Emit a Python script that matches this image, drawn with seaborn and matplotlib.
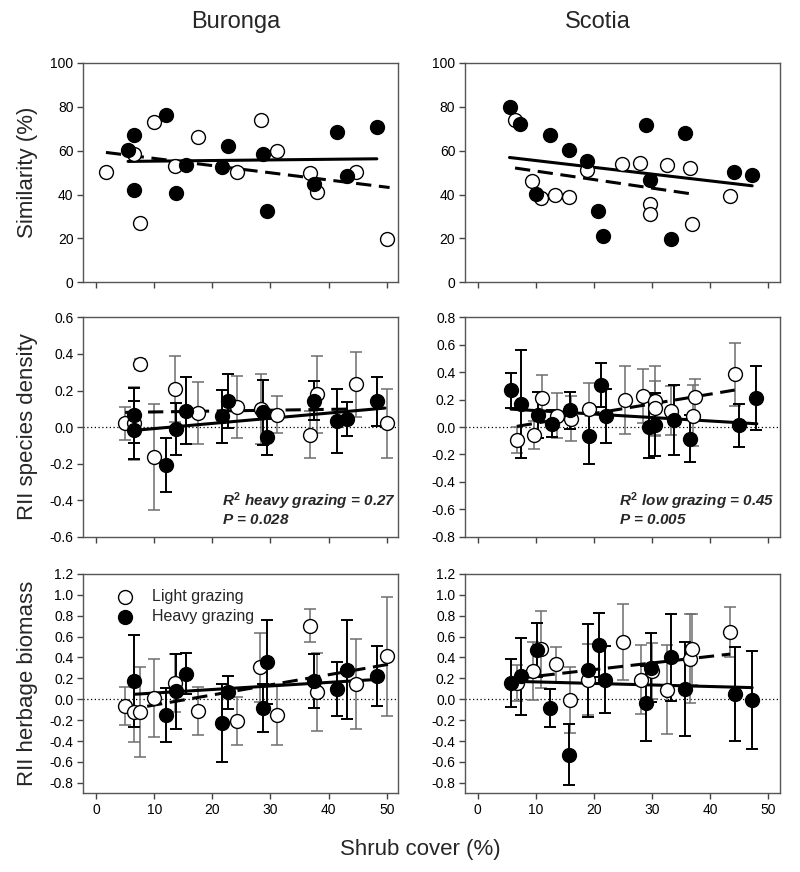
import numpy as np
import matplotlib
matplotlib.use("Agg")
import matplotlib.pyplot as plt
import seaborn as sns

sns.set_theme(style="ticks")
plt.rcParams["font.family"] = ["Liberation Sans", "DejaVu Sans"]
plt.rcParams["axes.unicode_minus"] = False
plt.rcParams["mathtext.fontset"] = "custom"
plt.rcParams["mathtext.it"] = "Liberation Sans:italic:bold"
plt.rcParams["mathtext.rm"] = "Liberation Sans:bold"
plt.rcParams["mathtext.bf"] = "Liberation Sans:bold"

# =========================
# DATA
# =========================
# fits are [x_start, x_end, intercept, slope]

# --- Buronga, similarity ---
bur_sim_light_x = [1.7, 6.6, 7.5, 10.0, 13.5, 17.5, 24.3, 28.3, 31.1, 36.8, 38.0, 44.7, 50.1]
bur_sim_light_y = [50.5, 58.4, 26.9, 72.9, 52.8, 66.2, 50.5, 73.8, 59.8, 49.8, 41.1, 50.5, 19.6]
bur_sim_heavy_x = [5.5, 6.6, 6.6, 12.1, 13.7, 15.5, 21.6, 22.7, 28.7, 29.4, 37.5, 41.4, 43.1, 48.3]
bur_sim_heavy_y = [60.4, 67.3, 42.0, 76.1, 40.9, 53.4, 52.7, 62.1, 58.4, 32.7, 44.7, 68.6, 48.6, 70.9]
bur_sim_fit_light = [1.7, 50.5, 59.76, -0.328]
bur_sim_fit_heavy = [5.5, 48.3, 54.95, 0.028]

# --- Scotia, similarity ---
sco_sim_light_x = [6.4, 9.4, 10.8, 13.3, 15.7, 18.8, 24.8, 27.9, 29.7, 29.7, 32.5, 36.5, 36.9, 43.3]
sco_sim_light_y = [74.1, 46.3, 38.2, 39.6, 39.1, 51.1, 53.9, 54.5, 35.6, 31.1, 53.3, 52.2, 26.6, 39.3]
sco_sim_heavy_x = [5.45, 7.2, 10.0, 12.5, 15.6, 18.8, 20.7, 21.5, 28.9, 29.7, 33.2, 35.6, 44.0, 47.1]
sco_sim_heavy_y = [79.9, 72.3, 40.2, 67.3, 60.4, 55.3, 32.4, 21.3, 71.7, 46.6, 19.8, 67.9, 50.2, 48.7]
sco_sim_fit_light = [6.4, 37.0, 54.59, -0.389]
sco_sim_fit_heavy = [5.45, 47.2, 58.58, -0.309]

# --- Buronga, RII species density ---
bur_den_light_x = [5.0, 6.6, 7.5, 10.0, 13.5, 17.5, 24.3, 28.3, 31.1, 36.8, 38.0, 44.7, 50.1]
bur_den_light_y = [0.02, 0.02, 0.345, -0.164, 0.209, 0.075, 0.109, 0.098, 0.068, -0.042, 0.18, 0.233, 0.02]
bur_den_light_e = [0.09, 0.2, 0.028, 0.29, 0.18, 0.17, 0.168, 0.19, 0.1, 0.13, 0.21, 0.18, 0.19]
bur_den_heavy_x = [6.6, 6.6, 12.1, 13.7, 15.5, 21.6, 22.7, 28.7, 29.4, 37.5, 41.4, 43.1, 48.3]
bur_den_heavy_y = [0.064, -0.018, -0.209, -0.01, 0.089, 0.058, 0.144, 0.08, -0.055, 0.145, 0.033, 0.044, 0.14]
bur_den_heavy_e = [0.15, 0.158, 0.147, 0.144, 0.184, 0.144, 0.147, 0.18, 0.1, 0.105, 0.176, 0.094, 0.135]
bur_den_fit_light = [5.0, 44.0, 0.078, 0.00047]
bur_den_fit_heavy = [6.6, 49.7, -0.0367, 0.00283]

# --- Scotia, RII species density ---
sco_den_light_x = [6.7, 9.6, 11.0, 13.6, 16.0, 19.2, 25.4, 28.5, 30.4, 30.4, 33.2, 37.1, 37.4, 44.2]
sco_den_light_y = [-0.095, -0.058, 0.212, 0.084, 0.06, 0.135, 0.198, 0.227, 0.192, 0.136, 0.12, 0.084, 0.22, 0.384]
sco_den_light_e = [0.095, 0.103, 0.165, 0.164, 0.165, 0.19, 0.25, 0.2, 0.25, 0.2, 0.18, 0.22, 0.13, 0.227]
sco_den_heavy_x = [5.7, 7.5, 10.4, 12.7, 15.9, 19.2, 21.2, 22.1, 29.5, 30.4, 33.8, 36.5, 44.9, 47.9]
sco_den_heavy_y = [0.269, 0.17, 0.087, 0.024, 0.121, -0.063, 0.308, 0.084, 0.003, 0.017, 0.053, -0.085, 0.012, 0.214]
sco_den_heavy_e = [0.127, 0.395, 0.166, 0.1, 0.135, 0.206, 0.16, 0.197, 0.23, 0.23, 0.257, 0.17, 0.158, 0.235]
sco_den_fit_light = [6.7, 44.2, -0.0424, 0.00707]
sco_den_fit_heavy = [5.7, 48.0, 0.1454, -0.00253]

# --- Buronga, RII herbage biomass ---
bur_bio_light_x = [4.9, 6.5, 7.5, 10.0, 13.5, 17.5, 24.3, 28.2, 31.1, 36.8, 38.0, 44.7, 50.1]
bur_bio_light_y = [-0.064, -0.12, -0.12, 0.013, 0.157, -0.109, -0.205, 0.307, -0.147, 0.704, 0.067, 0.15, 0.413]
bur_bio_light_e = [0.18, 0.29, 0.43, 0.37, 0.28, 0.23, 0.23, 0.33, 0.29, 0.16, 0.375, 0.43, 0.57]
bur_bio_heavy_x = [6.6, 12.1, 13.7, 15.5, 21.6, 22.7, 28.7, 29.4, 37.5, 41.4, 43.1, 48.3]
bur_bio_heavy_y = [0.176, -0.15, 0.077, 0.246, -0.227, 0.067, -0.08, 0.358, 0.176, 0.1, 0.285, 0.224]
bur_bio_heavy_e = [0.44, 0.26, 0.36, 0.2, 0.37, 0.16, 0.23, 0.4, 0.26, 0.26, 0.47, 0.29]
bur_bio_fit_light = [4.9, 50.5, -0.152, 0.00967]
bur_bio_fit_heavy = [6.6, 48.3, 0.0255, 0.0034]

# --- Scotia, RII herbage biomass ---
sco_bio_light_x = [6.8, 9.5, 10.9, 13.4, 15.8, 18.9, 24.9, 28.0, 30.0, 32.5, 36.5, 36.9, 43.4]
sco_bio_light_y = [0.157, 0.272, 0.478, 0.333, -0.01, 0.189, 0.548, 0.186, 0.27, 0.093, 0.39, 0.48, 0.648]
sco_bio_light_e = [0.17, 0.28, 0.37, 0.165, 0.315, 0.34, 0.36, 0.33, 0.27, 0.43, 0.43, 0.34, 0.24]
sco_bio_heavy_x = [5.7, 7.35, 10.2, 12.5, 15.7, 18.9, 20.8, 21.8, 29.0, 29.8, 33.3, 35.7, 44.2, 47.2]
sco_bio_heavy_y = [0.157, 0.221, 0.471, -0.083, -0.529, 0.276, 0.519, 0.189, -0.04, 0.3, 0.4, 0.096, 0.054, -0.01]
sco_bio_heavy_e = [0.232, 0.367, 0.26, 0.18, 0.296, 0.444, 0.31, 0.32, 0.36, 0.33, 0.42, 0.45, 0.45, 0.47]
sco_bio_fit_light = [6.7, 43.4, 0.157, 0.00635]
sco_bio_fit_heavy = [5.6, 47.2, 0.181, -0.00147]

sites = ["Buronga", "Scotia"]
row_labels = ["Similarity (%)", "RII species density", "RII herbage biomass"]
x_ticks = [0, 10, 20, 30, 40, 50]


def draw_panel(ax, lx, ly, hx, hy, fit_l, fit_h, le=None, he=None):
    if le is not None:
        ax.axhline(0, color="black", lw=0.9, ls=(0, (1, 2)), zorder=1)
        ax.errorbar(lx, ly, yerr=le, fmt="none", ecolor="#6e6e6e", elinewidth=1.1,
                    capsize=4, capthick=1.1, zorder=2)
        ax.errorbar(hx, hy, yerr=he, fmt="none", ecolor="black", elinewidth=1.4,
                    capsize=4, capthick=1.4, zorder=2)
    for fit, ls in [(fit_l, (0, (5, 2.5))), (fit_h, "-")]:
        xs = np.array(fit[:2])
        ys = fit[2] + fit[3] * xs
        sns.lineplot(x=xs, y=ys, ax=ax, color="black", lw=2.2, linestyle=ls, zorder=3)
    sns.scatterplot(x=lx, y=ly, ax=ax, s=100, color="white", edgecolor="black",
                    linewidth=1.0, zorder=4, label="Light grazing")
    sns.scatterplot(x=hx, y=hy, ax=ax, s=100, color="black", edgecolor="black",
                    linewidth=1.0, zorder=4, label="Heavy grazing")
    ax.get_legend().remove()


fig = plt.figure(figsize=(8, 8.72), dpi=100)
lefts = [0.1041, 0.5813]
bottoms = [0.6763, 0.3845, 0.0903]
w, h = 0.3938, 0.2515
axes = [[fig.add_axes([l, b, w, h]) for l in lefts] for b in bottoms]

draw_panel(axes[0][0], bur_sim_light_x, bur_sim_light_y, bur_sim_heavy_x, bur_sim_heavy_y,
           bur_sim_fit_light, bur_sim_fit_heavy)
draw_panel(axes[0][1], sco_sim_light_x, sco_sim_light_y, sco_sim_heavy_x, sco_sim_heavy_y,
           sco_sim_fit_light, sco_sim_fit_heavy)
draw_panel(axes[1][0], bur_den_light_x, bur_den_light_y, bur_den_heavy_x, bur_den_heavy_y,
           bur_den_fit_light, bur_den_fit_heavy, bur_den_light_e, bur_den_heavy_e)
draw_panel(axes[1][1], sco_den_light_x, sco_den_light_y, sco_den_heavy_x, sco_den_heavy_y,
           sco_den_fit_light, sco_den_fit_heavy, sco_den_light_e, sco_den_heavy_e)
draw_panel(axes[2][0], bur_bio_light_x, bur_bio_light_y, bur_bio_heavy_x, bur_bio_heavy_y,
           bur_bio_fit_light, bur_bio_fit_heavy, bur_bio_light_e, bur_bio_heavy_e)
draw_panel(axes[2][1], sco_bio_light_x, sco_bio_light_y, sco_bio_heavy_x, sco_bio_heavy_y,
           sco_bio_fit_light, sco_bio_fit_heavy, sco_bio_light_e, sco_bio_heavy_e)

# axis limits / ticks
ylims = [[(0, 100), (0, 100)], [(-0.6, 0.6), (-0.8, 0.8)], [(-0.9, 1.2), (-0.9, 1.2)]]
yticks = [[np.arange(0, 101, 20), np.arange(0, 101, 20)],
          [np.arange(-0.6, 0.61, 0.2), np.arange(-0.8, 0.81, 0.2)],
          [np.arange(-0.8, 1.21, 0.2), np.arange(-0.8, 1.21, 0.2)]]
for r in range(3):
    for c in range(2):
        ax = axes[r][c]
        ax.set_xlim(-2.2, 52)
        ax.set_ylim(*ylims[r][c])
        ax.set_xticks(x_ticks)
        ax.set_yticks(yticks[r][c])
        if r == 0:
            ax.set_yticklabels([f"{v:.0f}" for v in yticks[r][c]])
        else:
            ax.set_yticklabels([f"{v:.1f}".replace("-0.0", "0.0") for v in yticks[r][c]])
        ax.set_xlabel("")
        ax.set_ylabel("")
        ax.tick_params(direction="out", length=4, width=1, color="#444444",
                       labelsize=10, labelcolor="black", pad=3,
                       labelbottom=(r == 2))
        for sp in ax.spines.values():
            sp.set_visible(True)
            sp.set_color("#555555")
            sp.set_linewidth(1)

# R2 annotations
axes[1][0].text(0.44, 0.16, r"$R^2$ heavy grazing = 0.27", transform=axes[1][0].transAxes,
                fontsize=11, fontweight="bold", fontstyle="italic", va="center")
axes[1][0].text(0.44, 0.075, r"$P$ = 0.028", transform=axes[1][0].transAxes,
                fontsize=11, fontweight="bold", fontstyle="italic", va="center")
axes[1][1].text(0.49, 0.16, r"$R^2$ low grazing = 0.45", transform=axes[1][1].transAxes,
                fontsize=11, fontweight="bold", fontstyle="italic", va="center")
axes[1][1].text(0.49, 0.075, r"$P$ = 0.005", transform=axes[1][1].transAxes,
                fontsize=11, fontweight="bold", fontstyle="italic", va="center")

# legend
handles, labels = axes[2][0].get_legend_handles_labels()
axes[2][0].legend(handles, labels, loc="upper left", bbox_to_anchor=(0.04, 0.99),
                  frameon=False, fontsize=11.5, handletextpad=0.7, labelspacing=0.3,
                  borderpad=0.3)

# titles and labels
fig.text(0.295, 0.975, sites[0], ha="center", va="center", fontsize=17)
fig.text(0.7475, 0.975, sites[1], ha="center", va="center", fontsize=17)
for r, lab in enumerate(row_labels):
    fig.text(0.034, bottoms[r] + h / 2, lab, rotation=90, ha="center", va="center", fontsize=16)
fig.text(0.525, 0.026, "Shrub cover (%)", ha="center", va="center", fontsize=16)

fig.savefig("out.png", dpi=100)
